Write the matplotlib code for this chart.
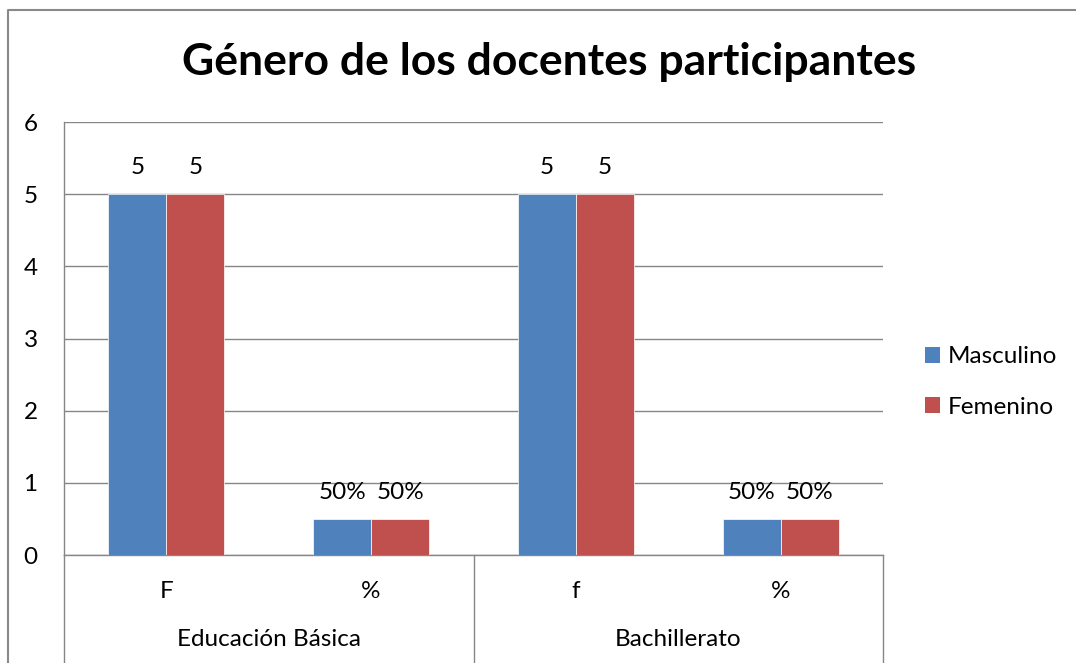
import matplotlib
matplotlib.use("Agg")
import matplotlib.pyplot as plt
import matplotlib.transforms as mtransforms
from matplotlib.lines import Line2D
from matplotlib.patches import Patch

plt.rcParams['font.family'] = ['Lato', 'DejaVu Sans']

title = "Género de los docentes participantes"
categories = ["F", "%", "f", "%"]
groups = ["Educación Básica", "Bachillerato"]
series_names = ["Masculino", "Femenino"]
masculino = [5, 0.5, 5, 0.5]
femenino = [5, 0.5, 5, 0.5]
masc_labels = ["5", "50%", "5", "50%"]
fem_labels = ["5", "50%", "5", "50%"]
colors = ["#4F81BD", "#C0504D"]
yticks = [0, 1, 2, 3, 4, 5, 6]

W, H = 1076, 663
FS = 17.5
fig = plt.figure(figsize=(W / 100, H / 100), dpi=100)
ax = fig.add_axes([64 / W, 1 - 555 / H, (883 - 64) / W, (555 - 122) / H])

x = list(range(len(categories)))
bw = 0.283
b1 = ax.bar([i - bw / 2 for i in x], masculino, width=bw, color=colors[0],
            edgecolor='white', linewidth=0.5, zorder=3)
b2 = ax.bar([i + bw / 2 for i in x], femenino, width=bw, color=colors[1],
            edgecolor='white', linewidth=0.5, zorder=3)

for bars, labs in ((b1, masc_labels), (b2, fem_labels)):
    for r, lab in zip(bars, labs):
        ax.annotate(lab, (r.get_x() + r.get_width() / 2, r.get_height()),
                    xytext=(0, 19), textcoords='offset points',
                    ha='center', va='center', fontsize=FS, color='black')

ax.set_xlim(-0.5, len(categories) - 0.5)
ax.set_ylim(0, 6)
ax.set_yticks(yticks)
ax.set_yticklabels([str(v) for v in yticks], fontsize=FS)
ax.yaxis.grid(True, color='#868686', linewidth=1.0, zorder=0)
ax.set_axisbelow(True)
ax.set_xticks(x)
ax.set_xticklabels(categories, fontsize=FS)
ax.tick_params(axis='y', length=0, pad=19)
ax.tick_params(axis='x', length=0, pad=19)

for s in ['top', 'right']:
    ax.spines[s].set_visible(False)
for s in ['left', 'bottom']:
    ax.spines[s].set_color('#868686')
    ax.spines[s].set_linewidth(1.0)

# category group separators and labels
trans = mtransforms.blended_transform_factory(ax.transData, ax.transAxes)
n_per = len(categories) // len(groups)
for g in range(len(groups) + 1):
    xs = g * n_per - 0.5
    ax.add_line(Line2D([xs, xs], [0, -0.3], transform=trans, color='#868686',
                       linewidth=1.0, clip_on=False))
for g, name in enumerate(groups):
    xc = g * n_per + (n_per - 1) / 2
    ax.text(xc, -(640 - 555) / (555 - 122), name, transform=trans,
            ha='center', va='center', fontsize=FS)

# title
fig.text(549 / W, 1 - 62 / H, title, ha='center', va='center',
         fontsize=32, fontweight='bold')

# outer border
fig.add_artist(Line2D([8 / W, 8 / W, 1.0], [0.0, 1 - 10 / H, 1 - 10 / H],
                      transform=fig.transFigure, color='#898989', linewidth=1.5))

handles = [Patch(facecolor=c, edgecolor='none') for c in colors]
fig.legend(handles, series_names, loc='center left',
           bbox_to_anchor=(925 / W, 1 - 382 / H), frameon=False, fontsize=FS,
           handlelength=0.6, handleheight=0.6, handletextpad=0.35,
           labelspacing=1.2, borderpad=0, borderaxespad=0)

fig.savefig("out.png", dpi=100)
